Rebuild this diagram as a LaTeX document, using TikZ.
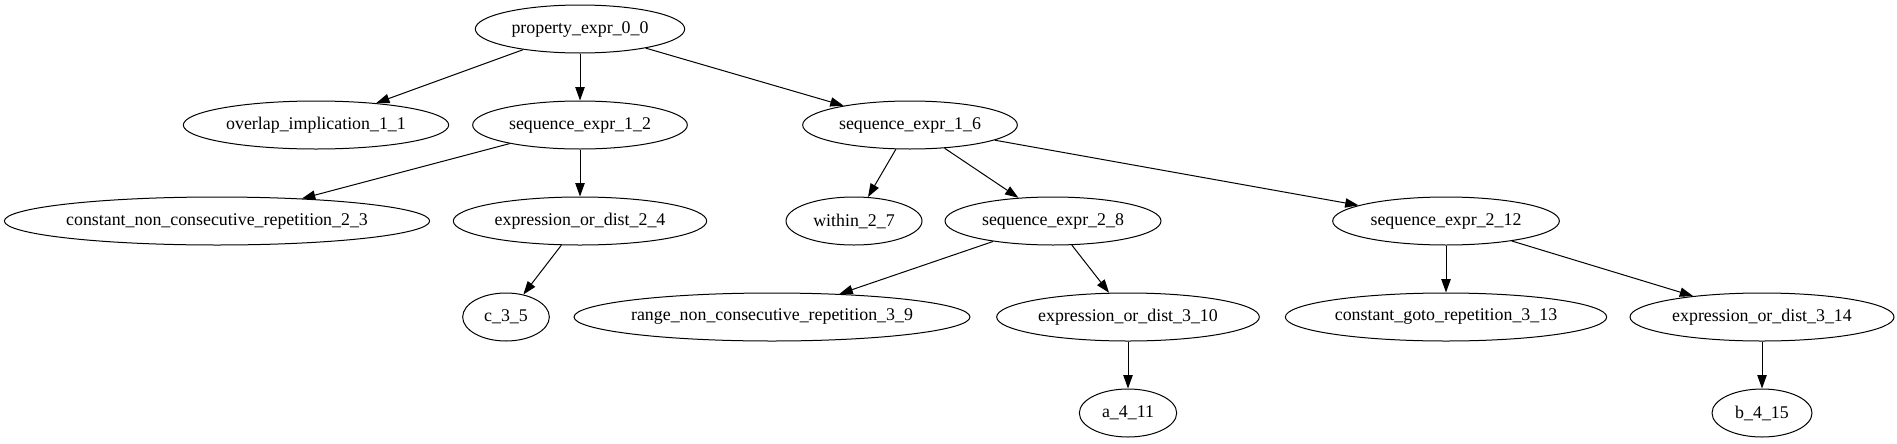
\documentclass[tikz,border=0pt]{standalone}
\usepackage{fontspec}
\setmainfont{Liberation Serif}
\usetikzlibrary{shapes.geometric,arrows.meta}

\begin{document}
\begin{tikzpicture}[x=0.75pt,y=-0.75pt,
  tree/.style={draw,ellipse,line width=0.75pt,inner xsep=-6pt,inner ysep=0pt,
    minimum height=36pt,minimum width=#1,font=\fontsize{13.4pt}{16pt}\selectfont},
  edge/.style={-{Triangle[length=10pt,width=7pt]},line width=0.75pt}]
  \useasboundingbox (0,0) rectangle (1897,443);
  % level 0 and 1
  \node[tree=157pt] (n0) at (580,29) {property\_expr\_0\_0};
  \node[tree=199pt] (n11) at (316,125) {overlap\_implication\_1\_1};
  \node[tree=161pt] (n12) at (580,125) {sequence\_expr\_1\_2};
  \node[tree=161pt] (n16) at (910,125) {sequence\_expr\_1\_6};
  % level 2
  \node[tree=319pt] (n23) at (217,221) {constant\_non\_consecutive\_repetition\_2\_3};
  \node[tree=190pt] (n24) at (580,221) {expression\_or\_dist\_2\_4};
  \node[tree=102pt] (n27) at (854,221) {within\_2\_7};
  \node[tree=162pt] (n28) at (1053,221) {sequence\_expr\_2\_8};
  \node[tree=170pt] (n212) at (1446,221) {sequence\_expr\_2\_12};
  % level 3
  \node[tree=65pt] (n35) at (506,317) {c\_3\_5};
  \node[tree=297pt] (n39) at (772,317) {range\_non\_consecutive\_repetition\_3\_9};
  \node[tree=197pt] (n310) at (1128,317) {expression\_or\_dist\_3\_10};
  \node[tree=241pt] (n313) at (1446,317) {constant\_goto\_repetition\_3\_13};
  \node[tree=198pt] (n314) at (1762,317) {expression\_or\_dist\_3\_14};
  % level 4
  \node[tree=73pt] (n411) at (1128,413) {a\_4\_11};
  \node[tree=75pt] (n415) at (1762,413) {b\_4\_15};

  \begin{scope}[edge]
  \draw (n0) -- (n11);
  \draw (n0) -- (n12);
  \draw (n0) -- (n16);
  \draw (n12) -- (n23);
  \draw (n12) -- (n24);
  \draw (n24) -- (n35);
  \draw (n16) -- (n27);
  \draw (n16) -- (n28);
  \draw (n16) -- (n212);
  \draw (n28) -- (n39);
  \draw (n28) -- (n310);
  \draw (n310) -- (n411);
  \draw (n212) -- (n313);
  \draw (n212) -- (n314);
  \draw (n314) -- (n415);
  \end{scope}
\end{tikzpicture}
\end{document}
